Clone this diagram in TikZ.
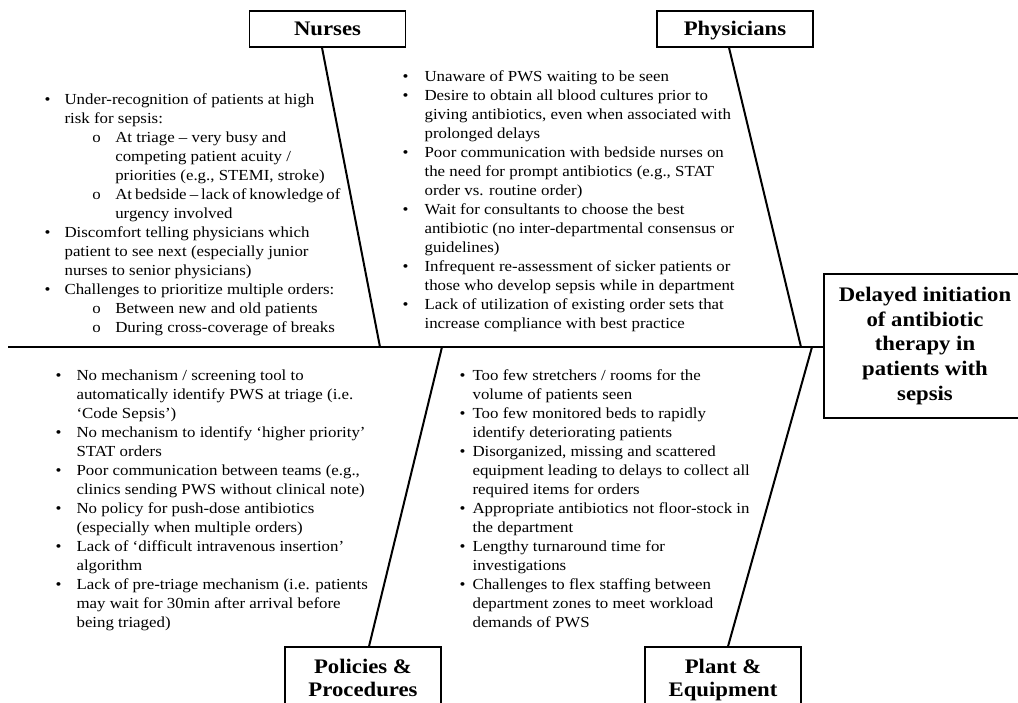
\documentclass[tikz,border=0pt]{standalone}
\usepackage{fontspec}
\setmainfont{Liberation Serif}[FakeStretch=1.1]
\usetikzlibrary{calc}
\newlength{\bulw}\newlength{\subx}\newlength{\subw}
\newcommand{\bitem}[1]{\makebox[\bulw][l]{\textbullet}#1}
\newcommand{\bcont}[1]{\hspace*{\bulw}#1}
\newcommand{\sitem}[1]{\hspace*{\subx}\makebox[\subw][l]{o}#1}
\newcommand{\scont}[1]{\hspace*{\subx}\hspace*{\subw}#1}
\newcommand{\setbul}[3]{\global\bulw=#1\relax\global\subx=#2\relax\global\subw=#3\relax}
\begin{document}
\begin{tikzpicture}[x=0.75pt,y=-0.75pt,
  every node/.style={inner sep=0pt},
  bodytext/.style={anchor=north west, align=left, font=\fontsize{11.5}{14.25}\selectfont},
  catbox/.style={draw, line width=0.9pt, minimum width=117pt, align=center,
    font=\bfseries\fontsize{15.5}{17.25}\selectfont},
  bone/.style={line width=1.5pt},
  spine/.style={line width=1.9pt}]
\useasboundingbox (0,0) rectangle (1018,703);

% category boxes
\node[catbox, minimum height=27pt, text height=10.5pt, text depth=0pt] (nurses) at (327.5,29) {Nurses};
\node[catbox, minimum height=27pt, text height=10.5pt, text depth=0pt] (phys) at (735,29) {Physicians};
\node[catbox, minimum height=49.5pt] (pol) at (363,680) {\strut Policies \&\\\strut Procedures};
\node[catbox, minimum height=49.5pt] (plant) at (723,680) {\strut Plant \&\\\strut Equipment};
\node[draw, line width=0.9pt, minimum width=151.5pt, minimum height=108pt, align=center,
  font=\bfseries\fontsize{15.5}{18.5}\selectfont] (effect) at (925,346)
  {Delayed initiation\\of antibiotic\\therapy in\\patients with\\sepsis};

% spine and bones
\coordinate (tail) at (8,347);
\coordinate (j1) at (380,347);
\coordinate (j2) at (442,347);
\coordinate (j3) at (801,347);
\coordinate (j4) at (812,347);
\draw[spine] (tail) -- (tail -| effect.west);
\draw[bone] ($(nurses.south)+(-5.5,0)$) -- (j1);
\draw[bone] ($(phys.south)+(-6,0)$) -- (j3);
\draw[bone] (j2) -- ($(pol.north)+(6,0)$);
\draw[bone] (j4) -- ($(plant.north)+(5,0)$);

% text blocks
\setbul{15pt}{35.8pt}{17.25pt}
\node[bodytext] (tn) at (44.3,90.7) {\strut
\bitem{Under-recognition of patients at high}\\
\bcont{risk for sepsis:}\\
\sitem{At triage – very busy and}\\
\scont{competing patient acuity /}\\
\scont{priorities (e.g., STEMI, stroke)}\\
\sitem{{\spaceskip=0.72\fontdimen2\font At bedside – lack of knowledge of}}\\
\scont{urgency involved}\\
\bitem{Discomfort telling physicians which}\\
\bcont{patient to see next (especially junior}\\
\bcont{nurses to senior physicians)}\\
\bitem{Challenges to prioritize multiple orders:}\\
\sitem{Between new and old patients}\\
\sitem{During cross-coverage of breaks}};

\setbul{16.5pt}{0pt}{0pt}
\node[bodytext] (tp) at (402.3,67.7) {\strut
\bitem{Unaware of PWS waiting to be seen}\\
\bitem{Desire to obtain all blood cultures prior to}\\
\bcont{giving antibiotics, even when associated with}\\
\bcont{prolonged delays}\\
\bitem{Poor communication with bedside nurses on}\\
\bcont{the need for prompt antibiotics (e.g., STAT}\\
\bcont{order vs. routine order)}\\
\bitem{Wait for consultants to choose the best}\\
\bcont{antibiotic (no inter-departmental consensus or}\\
\bcont{guidelines)}\\
\bitem{Infrequent re-assessment of sicker patients or}\\
\bcont{those who develop sepsis while in department}\\
\bitem{Lack of utilization of existing order sets that}\\
\bcont{increase compliance with best practice}};

\setbul{15.75pt}{0pt}{0pt}
\node[bodytext] (tpol) at (55.3,366.7) {\strut
\bitem{No mechanism / screening tool to}\\
\bcont{automatically identify PWS at triage (i.e.}\\
\bcont{‘Code Sepsis’)}\\
\bitem{No mechanism to identify ‘higher priority’}\\
\bcont{STAT orders}\\
\bitem{Poor communication between teams (e.g.,}\\
\bcont{clinics sending PWS without clinical note)}\\
\bitem{No policy for push-dose antibiotics}\\
\bcont{(especially when multiple orders)}\\
\bitem{Lack of ‘difficult intravenous insertion’}\\
\bcont{algorithm}\\
\bitem{Lack of pre-triage mechanism (i.e. patients}\\
\bcont{may wait for 30min after arrival before}\\
\bcont{being triaged)}};

\setbul{9.75pt}{0pt}{0pt}
\node[bodytext] (tpl) at (459.3,366.7) {\strut
\bitem{Too few stretchers / rooms for the}\\
\bcont{volume of patients seen}\\
\bitem{Too few monitored beds to rapidly}\\
\bcont{identify deteriorating patients}\\
\bitem{Disorganized, missing and scattered}\\
\bcont{equipment leading to delays to collect all}\\
\bcont{required items for orders}\\
\bitem{Appropriate antibiotics not floor-stock in}\\
\bcont{the department}\\
\bitem{Lengthy turnaround time for}\\
\bcont{investigations}\\
\bitem{Challenges to flex staffing between}\\
\bcont{department zones to meet workload}\\
\bcont{demands of PWS}};
\end{tikzpicture}
\end{document}
